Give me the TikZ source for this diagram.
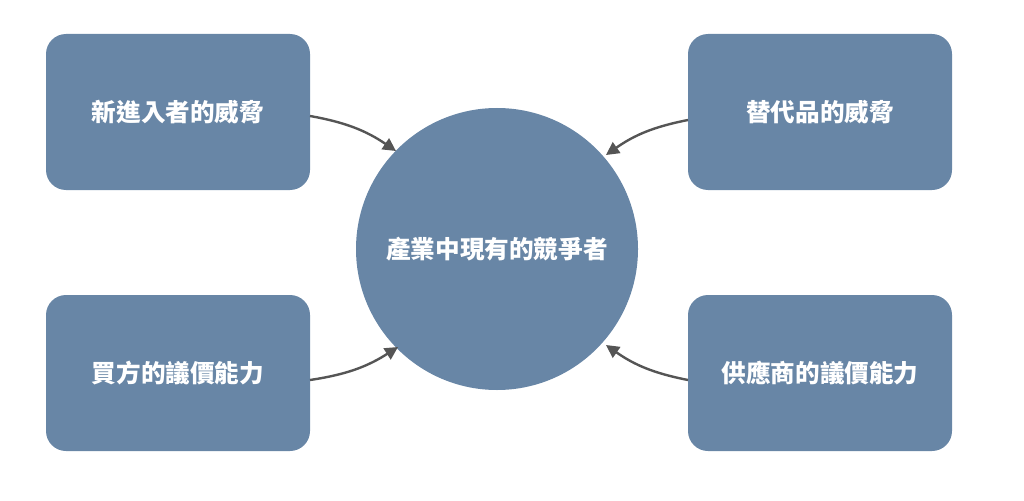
\documentclass[tikz,border=0pt]{standalone}
\usepackage{fontspec}
\newfontfamily\cjk{Noto Sans CJK TC}
\usetikzlibrary{arrows.meta}
\definecolor{boxblue}{HTML}{6886A6}
\definecolor{arrowgray}{HTML}{555555}
\tikzset{
  force/.style={fill=boxblue, draw=none, rounded corners=20pt, minimum width=264pt, minimum height=156pt, text=white, font=\cjk\bfseries\fontsize{24.6}{28}\selectfont, inner sep=0pt},
  rival/.style={fill=boxblue, draw=none, circle, minimum size=282pt, text=white, font=\cjk\bfseries\fontsize{24.6}{28}\selectfont, inner sep=0pt},
  conn/.style={draw=arrowgray, line width=2.4pt, -{Triangle[length=13pt,width=13pt]}}
}
\begin{document}
\begin{tikzpicture}[x=1pt,y=-1pt]
\useasboundingbox (0,0) rectangle (1024,500);
\node[force] (tl) at (178,112) {新進入者的威脅};
\node[force] (tr) at (820,112) {替代品的威脅};
\node[force] (bl) at (178,373) {買方的議價能力};
\node[force] (br) at (820,373) {供應商的議價能力};
\node[rival] (c) at (497,249) {產業中現有的競爭者};
\coordinate (a1) at (310,116);
\coordinate (a2) at (310,380);
\coordinate (a3) at (688,120);
\coordinate (a4) at (688,380);
\coordinate (e1) at (396,151);
\coordinate (e2) at (398,347);
\coordinate (e3) at (606,155);
\coordinate (e4) at (606,345);
\draw[conn] (a1) to[bend left=12] (e1);
\draw[conn] (a2) to[bend right=12] (e2);
\draw[conn] (a3) to[bend right=12] (e3);
\draw[conn] (a4) to[bend left=12] (e4);
\end{tikzpicture}
\end{document}
